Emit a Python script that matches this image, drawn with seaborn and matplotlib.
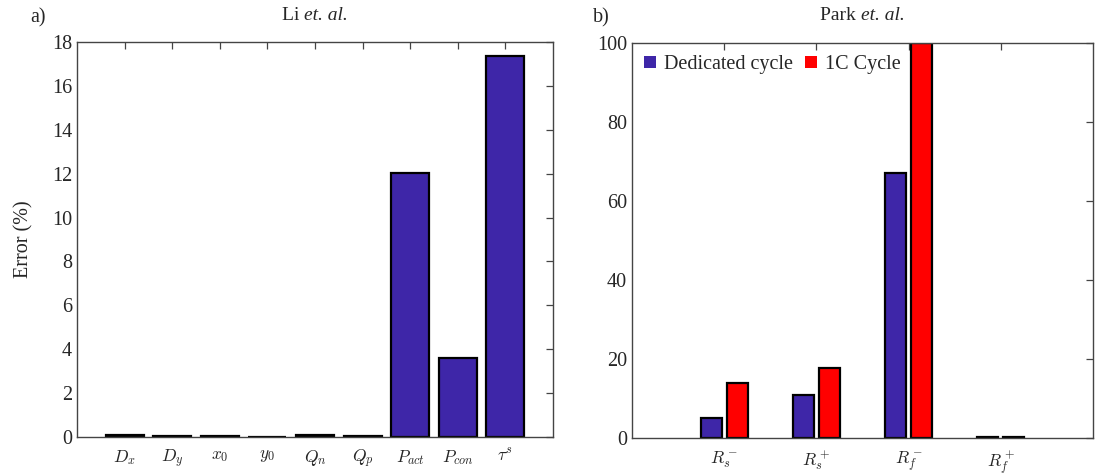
import matplotlib
matplotlib.use("Agg")
import matplotlib.pyplot as plt
import seaborn as sns
import pandas as pd
from matplotlib.patches import Patch

# ---- data ----
li_params = [r"$D_x$", r"$D_y$", r"$x_0$", r"$y_0$", r"$Q_n$", r"$Q_p$",
             r"$P_{act}$", r"$P_{con}$", r"$\tau^s$"]
li_error = [0.10, 0.03, 0.06, 0.02, 0.10, 0.05, 12.05, 3.62, 17.36]

park_params = [r"$R_s^-$", r"$R_s^+$", r"$R_f^-$", r"$R_f^+$"]
park_dedicated = [5.1, 10.9, 67.1, 0.15]
park_1c = [13.9, 17.7, 100.0, 0.15]
series_names = ["Dedicated cycle", "1C Cycle"]

li_yticks = list(range(0, 19, 2))
park_yticks = list(range(0, 101, 20))

BLUE = "#3E26A8"
RED = "#FF0000"
SPINE = "#444444"
FS = 14.5

sns.set_theme(style="white")
plt.rcParams["font.family"] = ["Liberation Serif", "DejaVu Serif"]
plt.rcParams["mathtext.fontset"] = "cm"

fig = plt.figure(figsize=(10.95, 4.74), dpi=100)
ax1 = fig.add_axes([77 / 1095, 1 - 437 / 474, 476 / 1095, 395 / 474])
ax2 = fig.add_axes([632 / 1095, 1 - 438 / 474, 461 / 1095, 395 / 474])

# ---- left panel ----
df_li = pd.DataFrame({"param": li_params, "error": li_error})
sns.barplot(data=df_li, x="param", y="error", color=BLUE, saturation=1,
            width=0.8, edgecolor="black", linewidth=1.6, ax=ax1)
ax1.set_xlim(-1, len(li_params))
ax1.set_ylim(0, 18)
ax1.set_yticks(li_yticks)
ax1.set_ylabel("Error (%)", fontsize=FS, labelpad=13)
ax1.set_xlabel("")

# ---- right panel ----
df_park = pd.DataFrame({
    "param": park_params * 2,
    "error": park_dedicated + park_1c,
    "series": [series_names[0]] * len(park_params) + [series_names[1]] * len(park_params),
})
sns.barplot(data=df_park, x="param", y="error", hue="series",
            palette=[BLUE, RED], saturation=1, width=0.571, gap=0.2,
            edgecolor="black", linewidth=1.6, ax=ax2, legend=False)
ax2.set_xlim(-1, len(park_params))
ax2.set_ylim(0, 100)
ax2.set_yticks(park_yticks)
ax2.set_xlabel("")
ax2.set_ylabel("")
handles = [Patch(facecolor=BLUE, edgecolor="none"), Patch(facecolor=RED, edgecolor="none")]
ax2.legend(handles, series_names, loc="upper left", ncol=2, frameon=False,
           fontsize=FS, handlelength=0.6, handleheight=0.6,
           handletextpad=0.4, columnspacing=0.6, borderaxespad=0.2,
           bbox_to_anchor=(0.0, 1.0))

for ax in (ax1, ax2):
    for s in ax.spines.values():
        s.set_visible(True)
        s.set_color(SPINE)
        s.set_linewidth(1.0)
    ax.tick_params(direction="in", top=True, right=True, length=5,
                   width=0.9, color=SPINE, labelsize=FS)
    ax.tick_params(axis="x", labelsize=12.5, pad=8)
    ax.grid(False)
    ax.set_facecolor("white")

fig.text(30 / 1095, 1 - 18 / 474, "a)", fontsize=FS, va="center", ha="left")
fig.text(593 / 1095, 1 - 18 / 474, "b)", fontsize=FS, va="center", ha="left")

# titles: regular name + italic "et. al." centered above each axes
fig.canvas.draw()
renderer = fig.canvas.get_renderer()
for ax, name in ((ax1, "Li "), (ax2, "Park ")):
    bb = ax.get_position()
    cx = (bb.x0 + bb.x1) / 2
    y = 1 - 16 / 474
    t1 = fig.text(0, y, name, fontsize=FS - 0.5, va="center", ha="left")
    t2 = fig.text(0, y, "et. al.", fontsize=FS - 0.5, style="italic", va="center", ha="left")
    w1 = t1.get_window_extent(renderer).width / fig.bbox.width
    w2 = t2.get_window_extent(renderer).width / fig.bbox.width
    x0 = cx - (w1 + w2) / 2
    t1.set_x(x0)
    t2.set_x(x0 + w1)

fig.savefig("out.png", dpi=100, facecolor="white")
